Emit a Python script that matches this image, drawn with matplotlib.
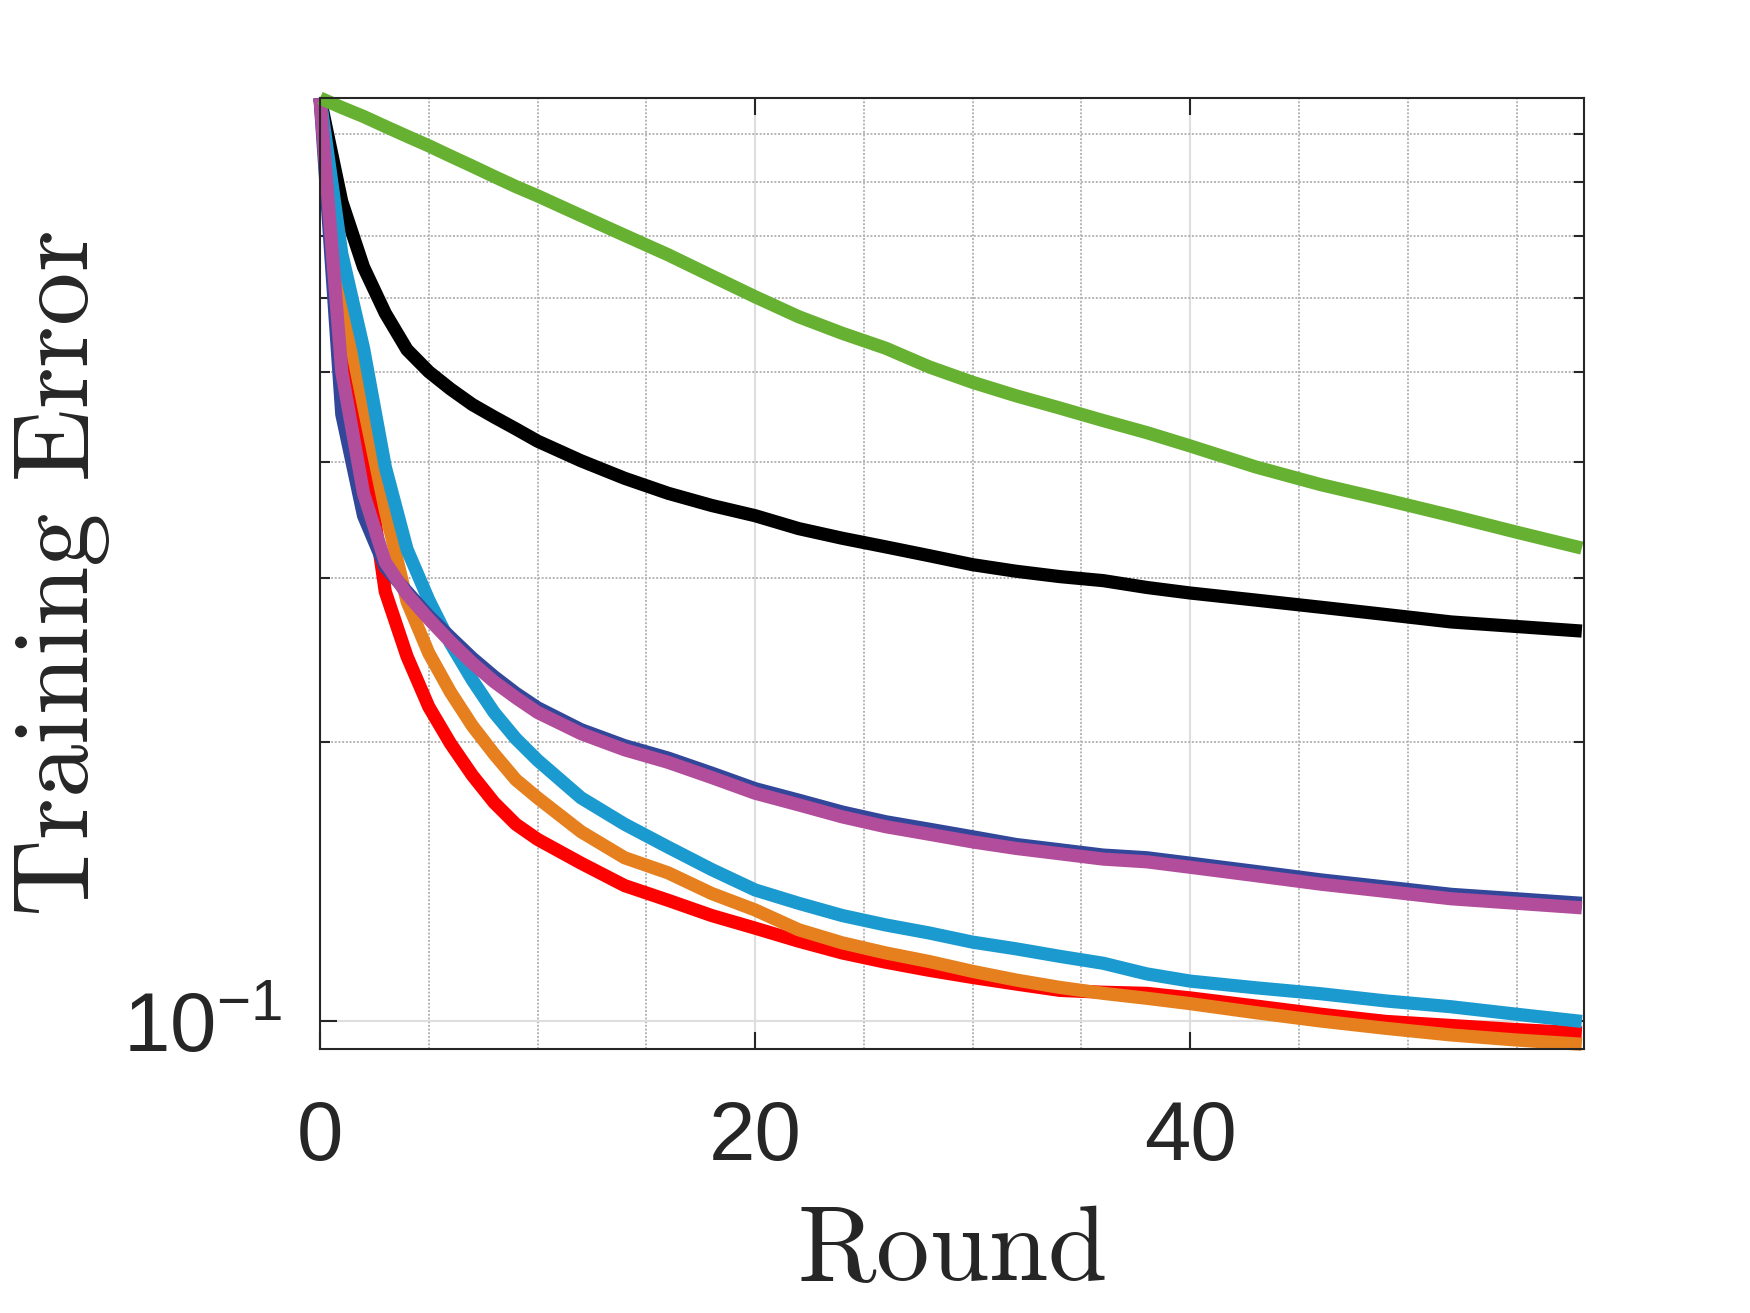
import matplotlib
matplotlib.use("Agg")
import matplotlib.pyplot as plt
from matplotlib.ticker import MultipleLocator, FixedLocator, NullFormatter

plt.rcParams['font.family'] = ['Liberation Sans', 'DejaVu Sans']
plt.rcParams['mathtext.fontset'] = 'cm'

# values
rounds = [0, 1, 2, 3, 4, 5, 6, 7, 8, 9, 10, 12, 14, 16, 18, 20, 22, 24, 26, 28,
          30, 32, 34, 36, 38, 40, 43, 46, 49, 52, 55, 58]

err_green = [0.985, 0.962, 0.941, 0.918, 0.896, 0.875, 0.853, 0.832, 0.811, 0.791,
             0.773, 0.736, 0.701, 0.668, 0.634, 0.602, 0.573, 0.550, 0.530, 0.506,
             0.487, 0.471, 0.457, 0.443, 0.430, 0.416, 0.395, 0.378, 0.364, 0.350,
             0.336, 0.323]
err_black = [0.985, 0.762, 0.648, 0.578, 0.528, 0.500, 0.479, 0.461, 0.447, 0.434,
             0.421, 0.401, 0.384, 0.370, 0.359, 0.350, 0.339, 0.331, 0.324, 0.317,
             0.310, 0.305, 0.301, 0.298, 0.293, 0.289, 0.284, 0.279, 0.274, 0.269,
             0.266, 0.263]
err_blue = [0.985, 0.450, 0.350, 0.308, 0.290, 0.273, 0.259, 0.246, 0.235, 0.2255,
            0.2175, 0.206, 0.198, 0.192, 0.185, 0.178, 0.173, 0.168, 0.164, 0.161,
            0.158, 0.155, 0.153, 0.151, 0.150, 0.148, 0.145, 0.142, 0.1395, 0.137,
            0.1355, 0.134]
err_magenta = [0.985, 0.500, 0.370, 0.312, 0.288, 0.271, 0.256, 0.243, 0.232, 0.223,
               0.215, 0.204, 0.196, 0.190, 0.183, 0.176, 0.171, 0.166, 0.162, 0.159,
               0.156, 0.1535, 0.1515, 0.1495, 0.1485, 0.1465, 0.1435, 0.1405, 0.138,
               0.1355, 0.134, 0.1325]
err_cyan = [0.985, 0.670, 0.530, 0.395, 0.322, 0.284, 0.255, 0.233, 0.215, 0.2015,
            0.191, 0.174, 0.163, 0.154, 0.1457, 0.1385, 0.134, 0.130, 0.127, 0.1245,
            0.1217, 0.1197, 0.1175, 0.1155, 0.1125, 0.1105, 0.1087, 0.1071, 0.1052,
            0.1037, 0.1018, 0.100]
err_orange = [0.985, 0.600, 0.460, 0.355, 0.283, 0.249, 0.226, 0.208, 0.194, 0.182,
              0.174, 0.160, 0.150, 0.1445, 0.1373, 0.1318, 0.1255, 0.1215, 0.1185,
              0.116, 0.1132, 0.1108, 0.1088, 0.1072, 0.1059, 0.1045, 0.1022, 0.1001,
              0.0983, 0.0967, 0.0955, 0.0945]
err_red = [0.985, 0.580, 0.420, 0.290, 0.247, 0.218, 0.199, 0.184, 0.172, 0.163,
           0.157, 0.148, 0.140, 0.135, 0.130, 0.126, 0.122, 0.1185, 0.1158, 0.1135,
           0.1115, 0.1097, 0.108, 0.1075, 0.1072, 0.106, 0.1039, 0.1018, 0.100,
           0.099, 0.098, 0.0972]

# drawing order: later ones on top
series = [
    (err_black, '#000000'),
    (err_red, '#FF0000'),
    (err_orange, '#E6801F'),
    (err_cyan, '#1B9AD0'),
    (err_blue, '#33479A'),
    (err_magenta, '#B24D9B'),
    (err_green, '#66B132'),
]

dark = '#262626'

fig = plt.figure(figsize=(17.5, 13.13), dpi=100)
ax = fig.add_axes([0.18286, 0.20107, 0.72229, 0.72429])

for vals, col in series:
    ax.plot(rounds, vals, color=col, lw=9.5, solid_capstyle='butt',
            solid_joinstyle='round', clip_on=False)

ax.set_yscale('log')
ax.set_xlim(0, 58.1)
ax.set_ylim(0.0934, 0.985)

ax.xaxis.set_major_locator(FixedLocator([0, 20, 40]))
ax.xaxis.set_minor_locator(MultipleLocator(5))
ax.yaxis.set_major_locator(FixedLocator([0.1]))
ax.yaxis.set_minor_locator(FixedLocator([0.2, 0.3, 0.4, 0.5, 0.6, 0.7, 0.8, 0.9]))
ax.yaxis.set_minor_formatter(NullFormatter())

ax.set_axisbelow(True)
ax.grid(which='major', color='#DEDEDE', lw=1.5, ls='-')
ax.grid(which='minor', color='#B5B5B5', lw=1.4, ls=(0, (1, 0.9)))

ax.tick_params(which='both', direction='in', top=True, right=True,
               colors=dark, width=1.5)
ax.tick_params(which='major', length=12)
ax.tick_params(which='minor', length=7)
ax.tick_params(axis='x', which='minor', length=0)
ax.tick_params(axis='x', which='major', pad=36, labelsize=60)
ax.tick_params(axis='y', which='major', pad=27, labelsize=60)

for sp in ax.spines.values():
    sp.set_color(dark)
    sp.set_linewidth(1.5)

ax.set_xlabel(r'$\mathrm{Round}$', fontsize=77, color=dark)
ax.set_ylabel(r'$\mathrm{Training\ Error}$', fontsize=77, color=dark)
ax.xaxis.set_label_coords(0.5, -0.161)
ax.yaxis.set_label_coords(-0.1646, 0.5)

fig.savefig('out.png', dpi=100)
